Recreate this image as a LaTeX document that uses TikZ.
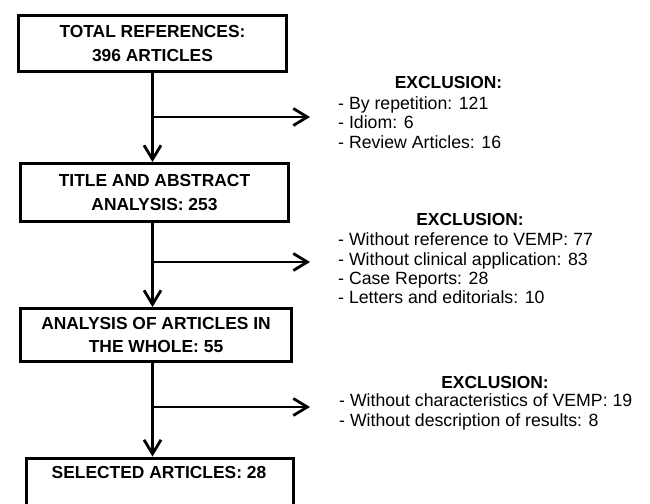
\documentclass[tikz,border=0pt]{standalone}
\usepackage{fontspec}
\setmainfont{Liberation Sans}
\usetikzlibrary{arrows.meta}
\begin{document}
\begin{tikzpicture}[x=1pt,y=-1pt,
  boxnode/.style={draw, line width=3pt, inner sep=0pt, align=center,
    font=\fontsize{17.4}{23.5}\selectfont\bfseries},
  headnode/.style={inner sep=0pt, font=\fontsize{17.4}{20}\selectfont\bfseries},
  itemnode/.style={inner sep=0pt, align=left, anchor=west,
    font=\fontsize{17.7}{19.4}\selectfont},
  flow/.style={line width=2.8pt, -{Straight Barb[length=14pt,width=17pt,line width=2.8pt]}}]
\clip (0,0) rectangle (650,503);
\fill[white] (0,0) rectangle (650,503);
% boxes
\node[boxnode, minimum width=268pt, minimum height=55pt] (b1) at (152.5,43.5) {TOTAL REFERENCES:\\396 ARTICLES};
\node[boxnode, minimum width=268pt, minimum height=58pt] (b2) at (154.5,192.5) {TITLE AND ABSTRACT\\ANALYSIS: 253};
\node[boxnode, minimum width=271pt, minimum height=53pt] (b3) at (156,335) {ANALYSIS OF ARTICLES IN\\THE WHOLE: 55};
\node[boxnode, minimum width=267pt, minimum height=80pt, anchor=north] (b4) at (160,456.5) {};
\node[headnode] (b4t) at (159,472.5) {SELECTED ARTICLES: 28};
% exclusion texts
\node[headnode] (h1) at (448.5,83) {EXCLUSION:};
\node[itemnode] (e1) at (338,122.5) {- By repetition: 121\\- Idiom: 6\\- Review Articles: 16};
\node[headnode] (h2) at (470,220) {EXCLUSION:};
\node[itemnode] (e2) at (338,268.5) {- Without reference to VEMP: 77\\- Without clinical application: 83\\- Case Reports: 28\\- Letters and editorials: 10};
\node[headnode] (h3) at (495,383) {EXCLUSION:};
\node[itemnode] (e3) at (339,412) {- Without characteristics of VEMP: 19\\- Without description of results: 8};
% junctions and tips
\coordinate (j1) at (152.5,117);
\coordinate (t1) at (310,117);
\coordinate (j2) at (152.5,262);
\coordinate (t2) at (310,262);
\coordinate (j3) at (152.5,407);
\coordinate (t3) at (310,407);
% connectors
\draw[flow] (b1.south) -- (b1.south |- b2.north);
\draw[flow] (b1.south |- b2.south) -- (b1.south |- b3.north);
\draw[flow] (b1.south |- b3.south) -- (b1.south |- b4.north);
\draw[flow] (j1) -- (t1);
\draw[flow] (j2) -- (t2);
\draw[flow] (j3) -- (t3);
\end{tikzpicture}
\end{document}
